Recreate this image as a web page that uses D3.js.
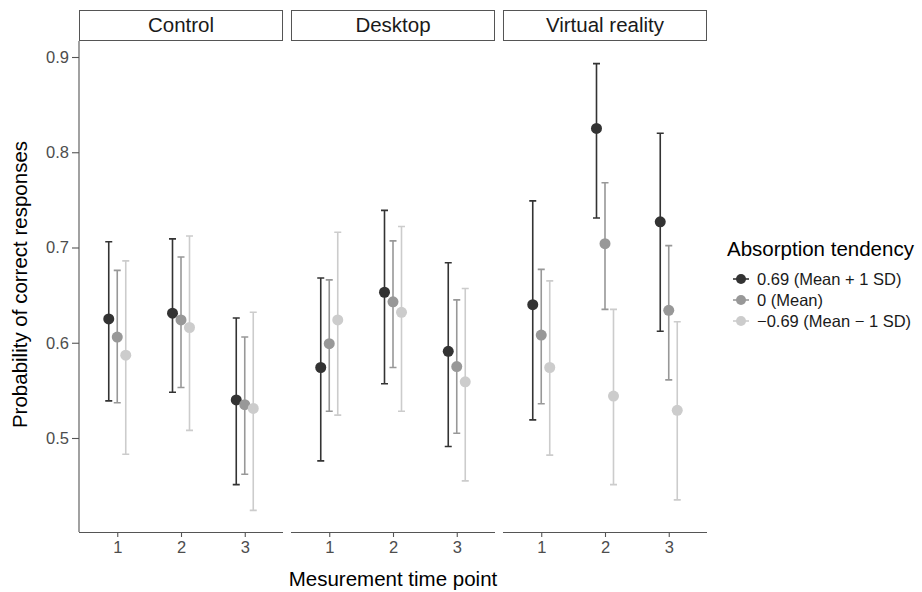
<!DOCTYPE html>
<html>
  <head>
    <title></title>
    <style>
      body, html{
        margin: 0;
        width: 100%;
        height: 100%;
        background: #fff;
      }
      svg text{
        font-family: "Liberation Sans", Arial, sans-serif;
      }
    </style>
  </head>
  <body>
    <script src="https://cdn.jsdelivr.net/npm/d3@7"></script>
    <script>

var conditions = ['Control', 'Desktop', 'Virtual reality']
var timePoints = ['1', '2', '3']
var groups = ['0.69 (Mean + 1 SD)', '0 (Mean)', '\u22120.69 (Mean \u2212 1 SD)']
var yTicks = [0.5, 0.6, 0.7, 0.8, 0.9]

// values per condition x time point (Control 1-3, Desktop 1-3, VR 1-3)
var highMean = [0.625, 0.631, 0.540, 0.574, 0.653, 0.591, 0.640, 0.825, 0.727]
var highLo   = [0.539, 0.548, 0.451, 0.476, 0.557, 0.491, 0.519, 0.731, 0.612]
var highHi   = [0.706, 0.709, 0.626, 0.668, 0.739, 0.684, 0.749, 0.893, 0.820]
var midMean  = [0.606, 0.624, 0.535, 0.599, 0.643, 0.575, 0.608, 0.704, 0.634]
var midLo    = [0.537, 0.553, 0.462, 0.528, 0.574, 0.505, 0.536, 0.635, 0.561]
var midHi    = [0.676, 0.690, 0.606, 0.666, 0.707, 0.645, 0.677, 0.768, 0.702]
var lowMean  = [0.587, 0.616, 0.531, 0.624, 0.632, 0.559, 0.574, 0.544, 0.529]
var lowLo    = [0.483, 0.508, 0.424, 0.524, 0.528, 0.455, 0.482, 0.451, 0.435]
var lowHi    = [0.686, 0.712, 0.632, 0.716, 0.722, 0.657, 0.665, 0.635, 0.622]

var colors = ['#333333', '#989898', '#cccccc']

var series = [
  {mean: highMean, lo: highLo, hi: highHi},
  {mean: midMean, lo: midLo, hi: midHi},
  {mean: lowMean, lo: lowLo, hi: lowHi}
]

var rows = []
series.forEach(function(s, gi){
  s.mean.forEach(function(m, i){
    rows.push({
      group: groups[gi],
      condition: conditions[Math.floor(i / 3)],
      time: timePoints[i % 3],
      mean: m, lo: s.lo[i], hi: s.hi[i]
    })
  })
})

var width = 922, height = 592
var plotTop = 41, plotBottom = 532

var svg = d3.select('body').append('svg').attr('width', width).attr('height', height)

var panel = d3.scaleBand().domain(conditions).range([79, 707]).paddingInner(0.0377)
var x = d3.scalePoint().domain(timePoints).range([0, panel.bandwidth()]).padding(0.6)
var dodge = x.step() * 0.4 / 3
var xg = d3.scalePoint().domain(groups).range([-dodge, dodge])
var y = d3.scaleLinear().domain([0.4013, 0.9168]).range([plotBottom, plotTop])
var color = d3.scaleOrdinal().domain(groups).range(colors)
var cap = x.step() * 0.055

// y axis on the first panel only
var yAxis = svg.append('g')
  .attr('transform', 'translate(' + panel(conditions[0]) + ',0)')
  .call(d3.axisLeft(y).tickValues(yTicks).tickSize(7).tickPadding(3).tickFormat(d3.format('.1f')))
yAxis.select('.domain').attr('d', 'M0,' + plotTop + 'V' + plotBottom)

var panels = svg.selectAll('g.panel').data(conditions).enter().append('g')
  .attr('class', 'panel')
  .attr('transform', function(d){ return 'translate(' + panel(d) + ',0)' })

panels.append('rect')
  .attr('x', 0.5).attr('y', 10.5)
  .attr('width', panel.bandwidth() - 1).attr('height', 30)
  .attr('fill', '#fff').attr('stroke', '#555').attr('stroke-width', 1)
panels.append('text')
  .attr('x', panel.bandwidth() / 2).attr('y', 32)
  .attr('text-anchor', 'middle')
  .style('font-size', '20.5px').attr('fill', '#1a1a1a')
  .text(function(d){ return d })

panels.append('g')
  .attr('class', 'xaxis')
  .attr('transform', 'translate(0,' + plotBottom + ')')
  .call(d3.axisBottom(x).tickSize(5).tickPadding(4).tickSizeOuter(0))
  .select('.domain').attr('d', 'M0,0.5H' + panel.bandwidth())

svg.selectAll('.tick text').attr('fill', '#4d4d4d').style('font-size', '16.5px')
svg.selectAll('.tick line, .domain').attr('stroke', '#555').attr('stroke-width', 1.1)

panels.each(function(cond){
  var g = d3.select(this)
  var data = rows.filter(function(r){ return r.condition === cond })
  var bars = g.selectAll('g.bar').data(data).enter().append('g')
    .attr('class', 'bar')
    .attr('transform', function(d){ return 'translate(' + (x(d.time) + xg(d.group)) + ',0)' })
  bars.append('path')
    .attr('d', function(d){
      return 'M' + (-cap) + ',' + y(d.hi) + 'H' + cap +
        'M0,' + y(d.hi) + 'V' + y(d.lo) +
        'M' + (-cap) + ',' + y(d.lo) + 'H' + cap
    })
    .attr('fill', 'none').attr('stroke-width', 1.6)
    .attr('stroke', function(d){ return color(d.group) })
  bars.append('circle')
    .attr('cy', function(d){ return y(d.mean) })
    .attr('r', 5.5)
    .attr('fill', function(d){ return color(d.group) })
})

svg.append('text')
  .attr('transform', 'translate(27,' + ((plotTop + plotBottom) / 2 - 2) + ') rotate(-90)')
  .attr('text-anchor', 'middle')
  .style('font-size', '20.5px').attr('fill', '#000')
  .text('Probability of correct responses')

svg.append('text')
  .attr('x', (panel(conditions[0]) + panel(conditions[2]) + panel.bandwidth()) / 2)
  .attr('y', 586)
  .attr('text-anchor', 'middle')
  .style('font-size', '20.5px').attr('fill', '#000')
  .text('Mesurement time point')

var legend = svg.append('g').attr('transform', 'translate(727,0)')
legend.append('text')
  .attr('x', 0).attr('y', 256)
  .style('font-size', '20.5px').attr('fill', '#000')
  .text('Absorption tendency')
var items = legend.selectAll('g.item').data(groups).enter().append('g')
  .attr('class', 'item')
  .attr('transform', function(d, i){ return 'translate(0,' + (279 + i * 21) + ')' })
items.append('line')
  .attr('x1', 6).attr('x2', 22)
  .attr('stroke-width', 1.6)
  .attr('stroke', function(d){ return color(d) })
items.append('circle')
  .attr('cx', 14).attr('r', 5)
  .attr('fill', function(d){ return color(d) })
items.append('text')
  .attr('x', 30).attr('y', 6)
  .style('font-size', '16.5px').attr('fill', '#1a1a1a')
  .text(function(d){ return d })

    </script>
  </body>
</html>
